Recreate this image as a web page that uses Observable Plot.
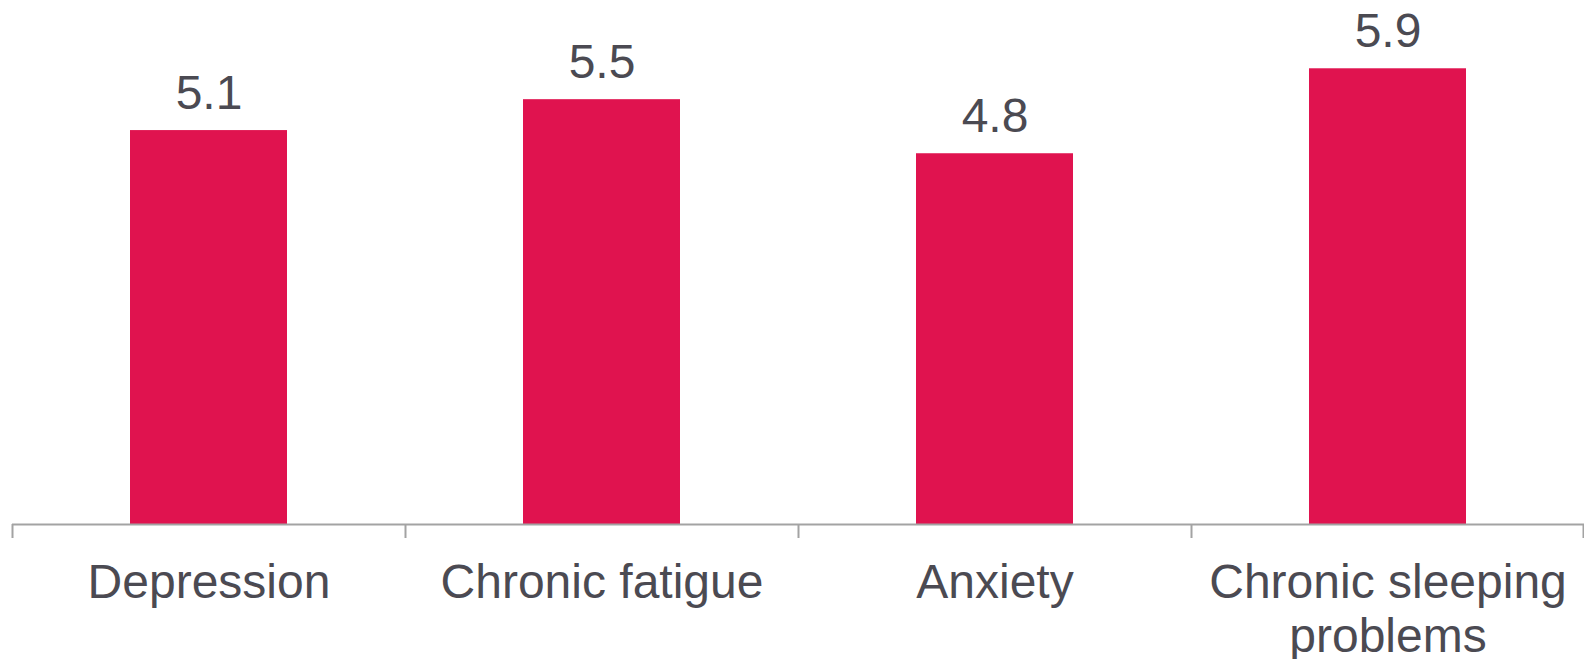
<!DOCTYPE html>
<html>
<head>
<meta charset="utf-8">
<script src="https://cdn.jsdelivr.net/npm/d3@7"></script>
<script src="https://cdn.jsdelivr.net/npm/@observablehq/plot@0.6"></script>
<style>
  html, body { margin: 0; padding: 0; background: #fff; }
  #chart svg { display: block; }
</style>
</head>
<body>
<div id="chart"></div>
<script>
// Conditions and their values
const categories = ["Depression", "Chronic fatigue", "Anxiety", "Chronic sleeping problems"];
const values = [5.1, 5.5, 4.8, 5.9];

const data = categories.map((c, i) => ({category: c, value: values[i]}));

const barColor = "#e0134f";
const textColor = "#4b4a52";
const axisColor = "#a3a3a3";
const font = "'Liberation Sans', Arial, Helvetica, sans-serif";

const width = 1584;
const height = 659;
const marginLeft = 12;
const marginRight = 0;
const step = (width - marginLeft - marginRight) / categories.length;

// wrap long category names onto two lines
const wrap = (d) => d === "Chronic sleeping problems" ? "Chronic sleeping\nproblems" : d;

const chart = Plot.plot({
  width,
  height,
  marginTop: 0,
  marginLeft,
  marginRight,
  marginBottom: 135,
  style: {fontFamily: font, background: "#fff"},
  x: {domain: categories, paddingInner: 0.6, paddingOuter: 0.3, axis: null},
  y: {domain: [0, 6.784], axis: null},
  marks: [
    Plot.barY(data, {x: "category", y: "value", fill: barColor}),
    Plot.text(data, {
      x: "category", y: "value", text: (d) => d.value.toFixed(1),
      lineAnchor: "bottom", dy: -22, fontSize: 48, fill: textColor
    }),
    // baseline
    Plot.ruleY([0], {stroke: axisColor, strokeWidth: 2}),
    // tick marks between categories
    Plot.axisX(categories, {
      tickSize: 14, tickFormat: null, label: null, stroke: axisColor, strokeWidth: 2, dx: -step / 2
    }),
    Plot.axisX([categories[categories.length - 1]], {
      tickSize: 14, tickFormat: null, label: null, stroke: axisColor, strokeWidth: 2, dx: step / 2 - 1
    }),
    // category labels
    Plot.axisX(categories, {
      tickSize: 0, tickPadding: 35, tickFormat: wrap, label: null,
      fontSize: 48, lineHeight: 1.13, fill: textColor
    })
  ]
});

document.getElementById("chart").appendChild(chart);
</script>
</body>
</html>
